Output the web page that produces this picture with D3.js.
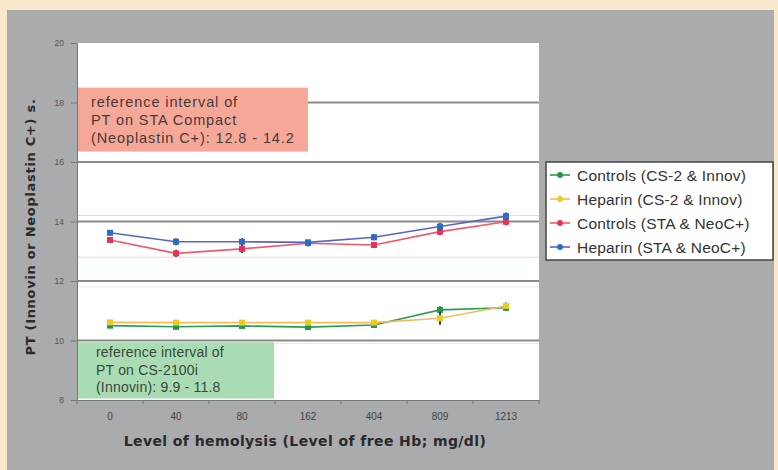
<!DOCTYPE html>
<html>
<head>
<meta charset="utf-8">
<script src="https://cdn.jsdelivr.net/npm/d3@7"></script>
<style>
body { margin: 0; background: #fbe8cc; }
text { font-family: "Liberation Sans", Arial, sans-serif; }
</style>
</head>
<body>
<div id="chart"></div>
<script>
'use strict';

var categories = ["0", "40", "80", "162", "404", "809", "1213"];
var yTicks = [8, 10, 12, 14, 16, 18, 20];

var controlsCS = [10.50, 10.46, 10.49, 10.45, 10.52, 11.03, 11.10];
var heparinCS = [10.61, 10.60, 10.60, 10.60, 10.60, 10.75, 11.16];
var controlsSTA = [13.38, 12.93, 13.08, 13.27, 13.21, 13.66, 13.99];
var heparinSTA = [13.62, 13.32, 13.32, 13.30, 13.47, 13.83, 14.18];

var errControlsCS = [0.06, 0.08, 0.07, 0.07, 0.07, 0.12, 0.10];
var errHeparinCS = [0.07, 0.07, 0.08, 0.07, 0.08, 0.22, 0.12];
var errControlsSTA = [0.10, 0.12, 0.14, 0.10, 0.10, 0.12, 0.12];
var errHeparinSTA = [0.08, 0.12, 0.12, 0.08, 0.10, 0.12, 0.12];

var seriesNames = ["Controls (CS-2 & Innov)", "Heparin (CS-2 & Innov)", "Controls (STA & NeoC+)", "Heparin (STA & NeoC+)"];

var series = [
	{ name: seriesNames[0], values: controlsCS, err: errControlsCS, line: "#2f9a50", dot: "#1f9a48" },
	{ name: seriesNames[1], values: heparinCS, err: errHeparinCS, line: "#f0bc5c", dot: "#e8cc20" },
	{ name: seriesNames[2], values: controlsSTA, err: errControlsSTA, line: "#ee5a6a", dot: "#e8305c" },
	{ name: seriesNames[3], values: heparinSTA, err: errHeparinSTA, line: "#5a64c8", dot: "#2a6cc8" }
];

var W = 778, H = 470;
var margin = { top: 43, right: 239, bottom: 70, left: 77 },
width = W - margin.left - margin.right,
height = H - margin.top - margin.bottom;

var svg = d3.select("#chart").append("svg")
	.attr("width", W).attr("height", H);

// backgrounds
svg.append("rect").attr("width", W).attr("height", H).attr("fill", "#fbe8cc");
svg.append("rect").attr("x", 7).attr("y", 10).attr("width", 767).attr("height", 460).attr("fill", "#a9abad");

var g = svg.append("g").attr("transform", "translate(" + margin.left + "," + margin.top + ")");

var x = d3.scaleBand().domain(categories).range([0, width]);
var y = d3.scaleLinear().domain([8, 20]).range([height, 0]);

g.append("rect").attr("width", width).attr("height", height).attr("fill", "#ffffff");

// faint reference interval lines
[12.8, 14.2].forEach(function(v) {
	g.append("line").attr("x1", 0).attr("x2", width).attr("y1", y(v)).attr("y2", y(v))
		.attr("stroke", "#f6d4cc").attr("stroke-width", 1);
});
[9.9, 11.8].forEach(function(v) {
	g.append("line").attr("x1", 0).attr("x2", width).attr("y1", y(v)).attr("y2", y(v))
		.attr("stroke", "#dcefe0").attr("stroke-width", 1);
});

// gridlines
g.selectAll(".grid").data(yTicks.filter(function(d) { return d > 8 && d < 20; })).enter()
	.append("line")
	.attr("x1", 0).attr("x2", width)
	.attr("y1", function(d) { return y(d); }).attr("y2", function(d) { return y(d); })
	.attr("stroke", "#8a8a8a").attr("stroke-width", 2);

// annotation boxes
g.append("rect").attr("x", 1).attr("y", y(18.5)).attr("width", 230).attr("height", y(16.35) - y(18.5))
	.attr("fill", "#f5a898");
var pinkText = ["reference interval of", "PT on STA Compact", "(Neoplastin C+): 12.8 - 14.2"];
g.selectAll(".ptxt").data(pinkText).enter().append("text")
	.attr("x", 14).attr("y", function(d, i) { return y(18.5) + 19 + i * 18; })
	.attr("font-size", 14.5).attr("letter-spacing", 0.9)
	.attr("fill", "#4a3838").text(function(d) { return d; });

g.append("rect").attr("x", 1).attr("y", y(9.94)).attr("width", 196).attr("height", y(8.05) - y(9.94))
	.attr("fill", "#a9dcb2");
var greenText = ["reference interval of", "PT on CS-2100i", "(Innovin): 9.9 - 11.8"];
g.selectAll(".gtxt").data(greenText).enter().append("text")
	.attr("x", 19).attr("y", function(d, i) { return y(9.94) + 15 + i * 17.5; })
	.attr("font-size", 14).attr("letter-spacing", 0.2)
	.attr("fill", "#3a463a").text(function(d) { return d; });

// axes
var yAxis = g.append("g").call(d3.axisLeft(y).tickValues(yTicks).tickSize(6).tickPadding(7));
yAxis.select(".domain").attr("stroke", "#777");
yAxis.selectAll(".tick line").attr("stroke", "#777");
yAxis.selectAll("text").attr("font-size", 8.5).attr("fill", "#555");

var xAxis = g.append("g").attr("transform", "translate(0," + height + ")")
	.call(d3.axisBottom(x).tickSize(0).tickPadding(13));
xAxis.select(".domain").attr("stroke", "#777");
xAxis.selectAll("text").attr("font-size", 10).attr("fill", "#444");
// boundary ticks between categories
g.selectAll(".xb").data(categories.concat([""])).enter().append("line")
	.attr("x1", function(d, i) { return i * x.step(); }).attr("x2", function(d, i) { return i * x.step(); })
	.attr("y1", height).attr("y2", height + 4)
	.attr("stroke", "#777");

// series
var line = d3.line()
	.x(function(d, i) { return x(categories[i]) + x.bandwidth() / 2; })
	.y(function(d) { return y(d); });

series.forEach(function(s) {
	g.append("path").datum(s.values).attr("d", line)
		.attr("fill", "none").attr("stroke", s.line).attr("stroke-width", 1.6);
	var cx = function(d, i) { return x(categories[i]) + x.bandwidth() / 2; };
	g.selectAll(null).data(s.values).enter().append("line")
		.attr("x1", cx).attr("x2", cx)
		.attr("y1", function(d, i) { return y(d + s.err[i]); })
		.attr("y2", function(d, i) { return y(d - s.err[i]); })
		.attr("stroke", "#3a4050").attr("stroke-width", 2);
	g.selectAll(null).data(s.values).enter().append("rect")
		.attr("x", function(d, i) { return cx(d, i) - 3; })
		.attr("y", function(d) { return y(d) - 3; })
		.attr("width", 6).attr("height", 6)
		.attr("fill", s.dot);
});

// legend
var legend = svg.append("g").attr("transform", "translate(546,162)");
legend.append("rect").attr("width", 227).attr("height", 98)
	.attr("fill", "#ffffff").attr("stroke", "#444").attr("stroke-width", 1.5);
var item = legend.selectAll(".item").data(series).enter().append("g")
	.attr("transform", function(d, i) { return "translate(0," + (13 + i * 24) + ")"; });
item.append("line").attr("x1", 4).attr("x2", 24).attr("y1", 0).attr("y2", 0)
	.attr("stroke", function(d) { return d.line; }).attr("stroke-width", 1.6);
item.append("circle").attr("cx", 14).attr("cy", 0).attr("r", 3)
	.attr("fill", function(d) { return d.dot; });
item.append("text").attr("x", 31).attr("y", 5.5).attr("font-size", 15.5).attr("letter-spacing", 0.2)
	.attr("fill", "#333")
	.text(function(d) { return d.name; });

// axis titles
svg.append("text").attr("x", 305).attr("y", 446).attr("text-anchor", "middle")
	.style("font-family", "'DejaVu Sans', Verdana, sans-serif")
	.attr("font-size", 14).attr("letter-spacing", 0.4).attr("font-weight", "bold").attr("fill", "#2a2a2a")
	.text("Level of hemolysis (Level of free Hb; mg/dl)");
svg.append("text").attr("transform", "translate(35,227) rotate(-90)").attr("text-anchor", "middle")
	.style("font-family", "'DejaVu Sans', Verdana, sans-serif")
	.attr("font-size", 13).attr("letter-spacing", 0.7).attr("font-weight", "bold").attr("fill", "#2a2a2a")
	.text("PT (Innovin or Neoplastin C+) s.");
</script>
</body>
</html>
